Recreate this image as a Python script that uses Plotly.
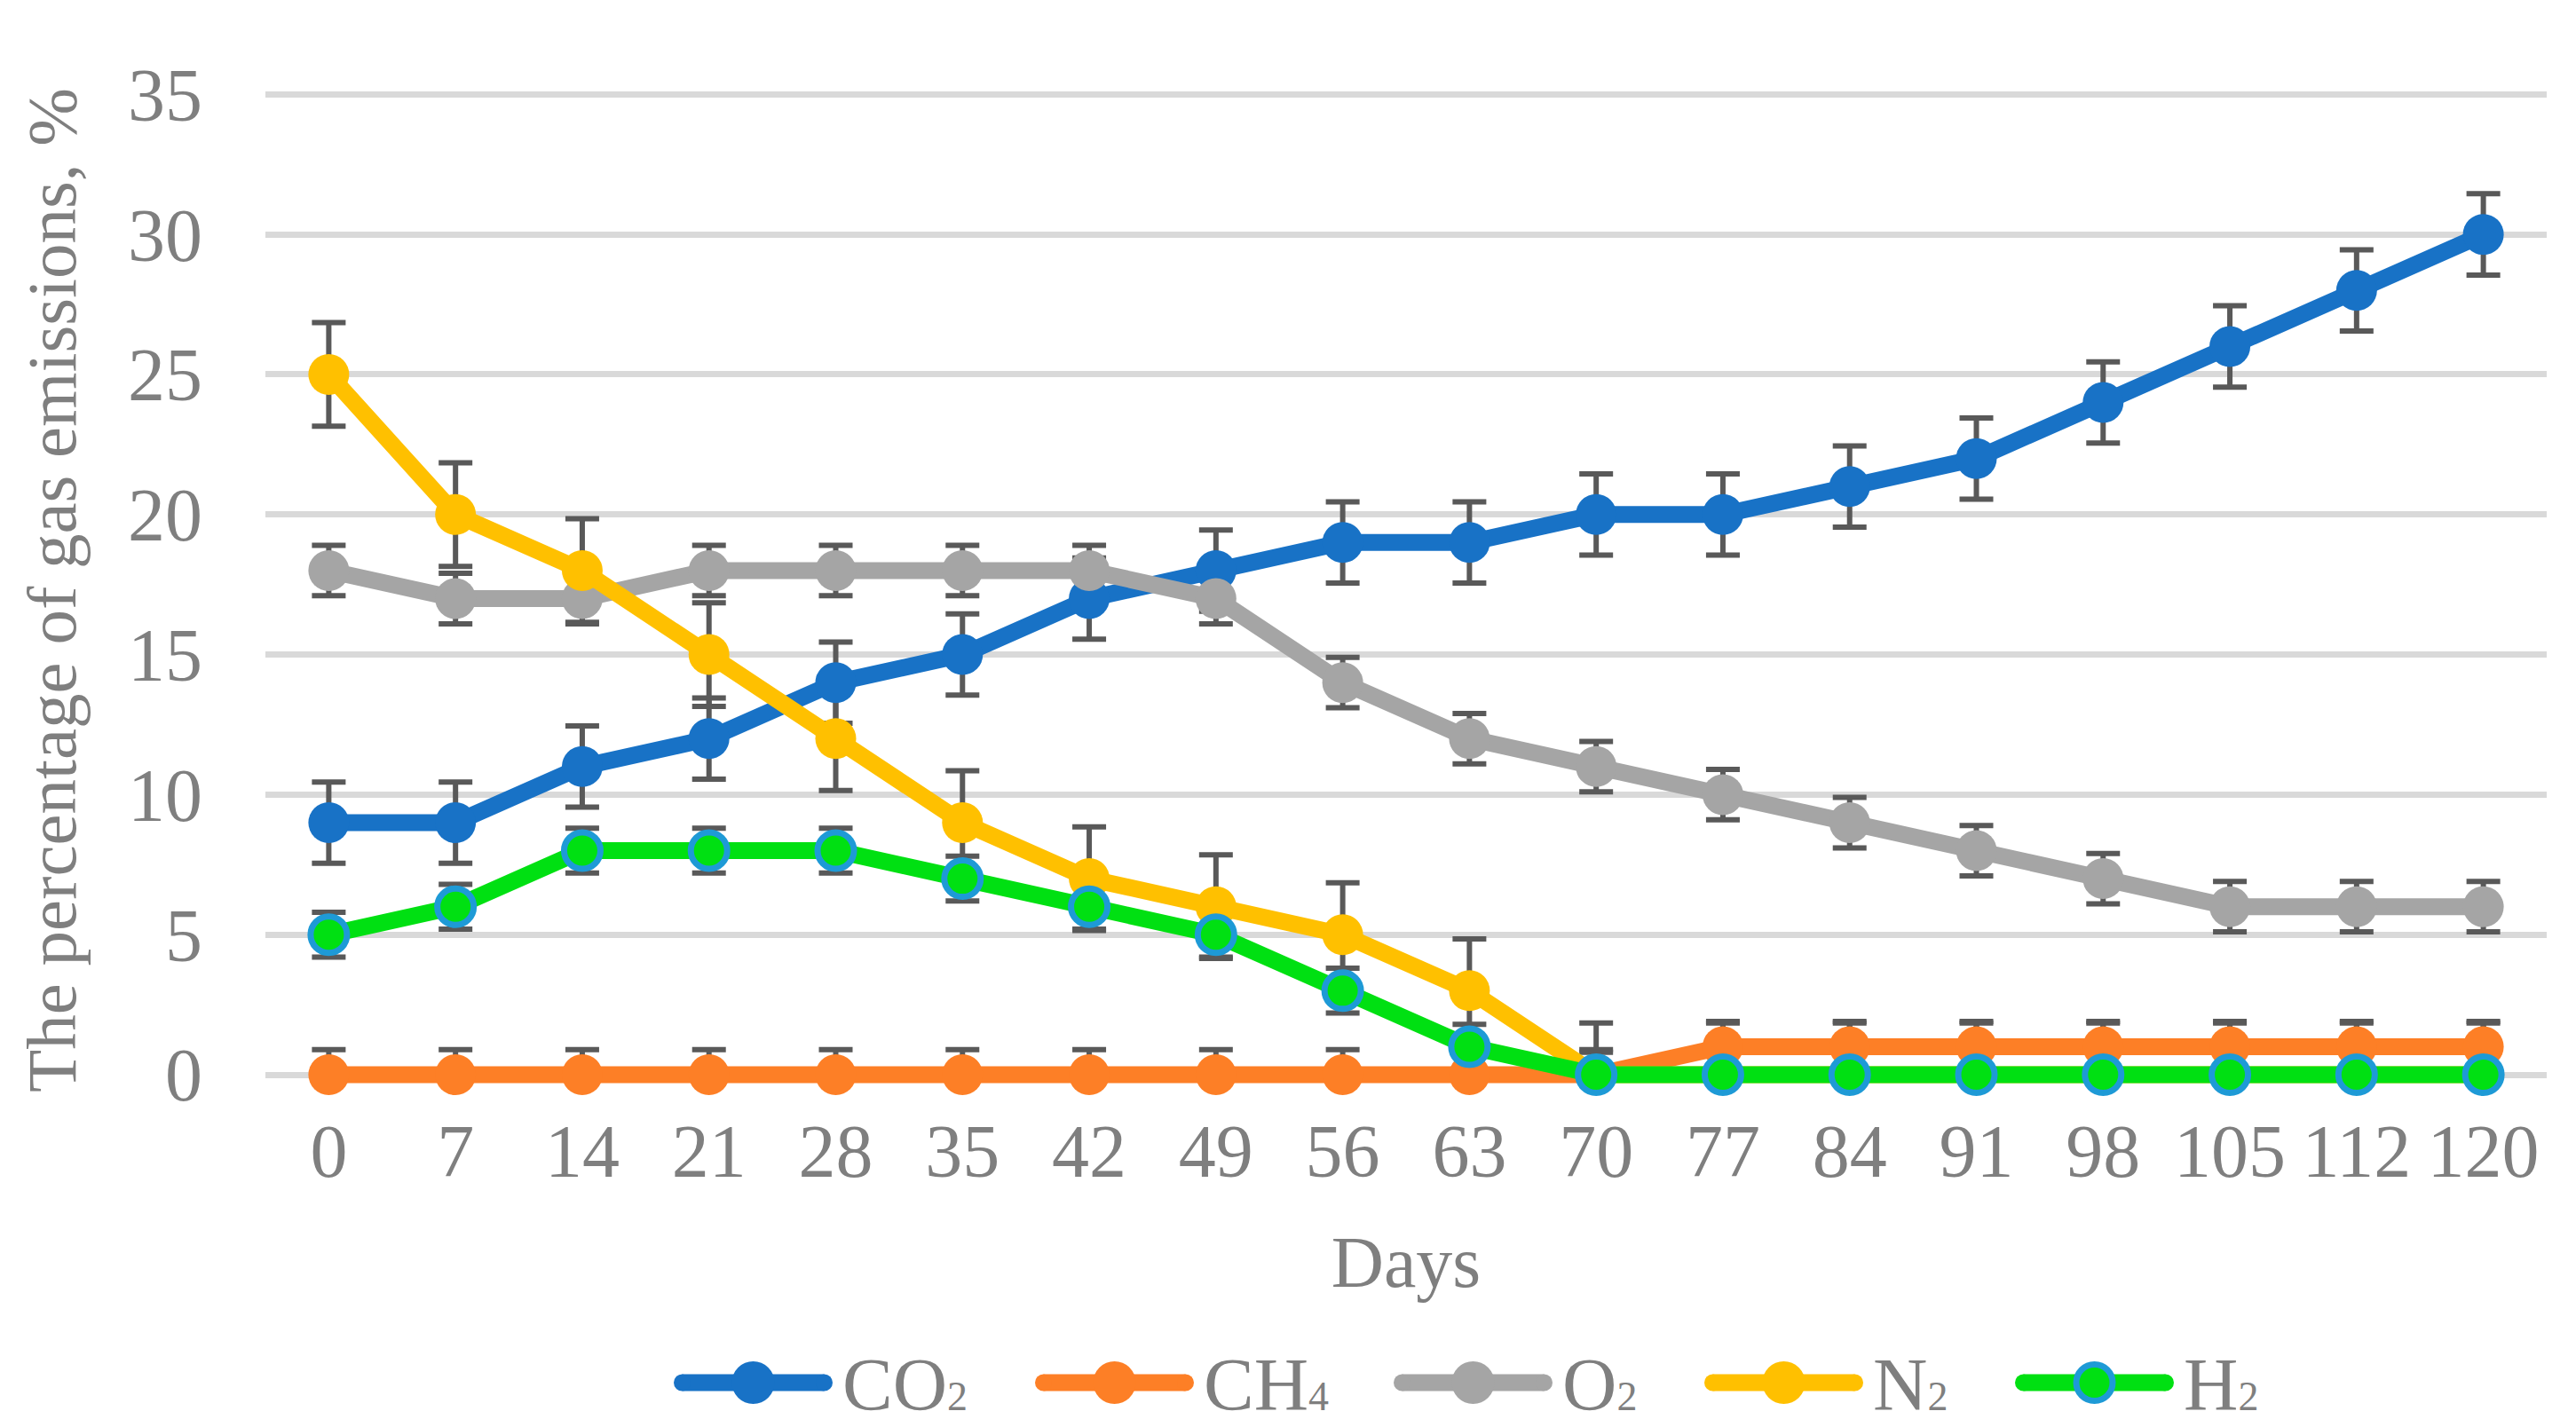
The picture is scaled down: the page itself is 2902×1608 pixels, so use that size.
import plotly.graph_objects as go

days = ["0", "7", "14", "21", "28", "35", "42", "49", "56", "63", "70", "77", "84", "91", "98", "105", "112", "120"]
co2 = [9, 9, 11, 12, 14, 15, 17, 18, 19, 19, 20, 20, 21, 22, 24, 26, 28, 30]
ch4 = [0, 0, 0, 0, 0, 0, 0, 0, 0, 0, 0, 1, 1, 1, 1, 1, 1, 1]
o2 = [18, 17, 17, 18, 18, 18, 18, 17, 14, 12, 11, 10, 9, 8, 7, 6, 6, 6]
n2 = [25, 20, 18, 15, 12, 9, 7, 6, 5, 3, 0, 0, 0, 0, 0, 0, 0, 0]
h2 = [5, 6, 8, 8, 8, 7, 6, 5, 3, 1, 0, 0, 0, 0, 0, 0, 0, 0]

# fixed error amount per series
err_co2 = 1.45
err_ch4 = 0.9
err_o2 = 0.9
err_n2 = 1.85
err_h2 = 0.8

SUB = "<span style='font-size:46px'>%s</span>"
names = ["CO" + SUB % "2", "CH" + SUB % "4", "O" + SUB % "2", "N" + SUB % "2", "H" + SUB % "2"]
values = [co2, ch4, o2, n2, h2]
errors = [err_co2, err_ch4, err_o2, err_n2, err_h2]
colors = ["#1872C6", "#FD7F26", "#A5A5A5", "#FFC000", "#00E012"]
edges = ["#1872C6", "#FD7F26", "#A5A5A5", "#FFC000", "#1E9AD6"]

FONT = "Liberation Serif"
GRAY = "#7F7F7F"
FS = 84

# layout geometry (page pixels; the page body adds an 8px offset)
OFF = 8
W, H = 2902, 1608
plot_l, plot_r = 299 - OFF, 2869 - OFF
y35_px, y0_px = 106 - OFF, 1211 - OFF
ymin, ymax = -0.6, 35.2
unit = (y0_px - y35_px) / 35.0
top_px = y35_px - (ymax - 35) * unit
bot_px = y0_px - ymin * unit

def px_x(p):
    return (p - OFF - plot_l) / (plot_r - plot_l)

def px_y(p):
    return (bot_px - (p - OFF)) / (bot_px - top_px)

fig = go.Figure()

# error bars drawn beneath all series
for vals, err in zip(values, errors):
    fig.add_trace(go.Scatter(
        x=days, y=vals, mode="markers",
        marker=dict(size=1, opacity=0),
        error_y=dict(type="data", array=[err] * len(vals),
                     arrayminus=[min(err, v) for v in vals],
                     color="#595959", thickness=6, width=19),
        showlegend=False, hoverinfo="skip",
    ))

for name, vals, col, edge in zip(names, values, colors, edges):
    bordered = edge != col
    fig.add_trace(go.Scatter(
        x=days, y=vals, name=name, mode="lines+markers",
        line=dict(color=col, width=19),
        marker=dict(size=41 if bordered else 46, color=col,
                    line=dict(color=edge, width=7 if bordered else 0)),
        cliponaxis=False, showlegend=False,
    ))

# custom legend (line + marker + label), positions in page pixels
legend_line_start = [759, 1166, 1570, 1920, 2270]
legend_line_len = 179
legend_lw = 19
legend_text_gap = 9
legend_y = 1558
legend_text_y = 1560
shapes = []
annotations = []
for name, col, edge, x0 in zip(names, colors, edges, legend_line_start):
    x1 = x0 + legend_line_len
    xc = (x0 + x1) / 2
    r = legend_lw / 2
    shapes.append(dict(type="line", xref="paper", yref="paper",
                       x0=px_x(x0 + r), x1=px_x(x1 - r),
                       y0=px_y(legend_y), y1=px_y(legend_y),
                       line=dict(color=col, width=legend_lw), layer="above"))
    for xe in (x0 + r, x1 - r):
        shapes.append(dict(type="circle", xref="paper", yref="paper",
                           xsizemode="pixel", ysizemode="pixel",
                           xanchor=px_x(xe), yanchor=px_y(legend_y),
                           x0=-r, x1=r, y0=-r, y1=r,
                           fillcolor=col, line=dict(width=0), layer="above"))
    bordered = edge != col
    rm = 24 if not bordered else 20.5
    shapes.append(dict(type="circle", xref="paper", yref="paper",
                       xsizemode="pixel", ysizemode="pixel",
                       xanchor=px_x(xc), yanchor=px_y(legend_y),
                       x0=-rm, x1=rm, y0=-rm, y1=rm,
                       fillcolor=col, line=dict(color=edge, width=7 if bordered else 0),
                       layer="above"))
    annotations.append(dict(text=name, xref="paper", yref="paper",
                            x=px_x(x1 + legend_text_gap), y=px_y(legend_text_y),
                            xanchor="left", yanchor="middle", showarrow=False,
                            font=dict(family=FONT, size=85, color=GRAY)))

fig.update_layout(
    width=W, height=H,
    margin=dict(l=plot_l, r=W - plot_r, t=top_px, b=H - bot_px, pad=0, autoexpand=False),
    paper_bgcolor="white", plot_bgcolor="white",
    font=dict(family=FONT, size=FS, color=GRAY),
    showlegend=False,
    shapes=shapes,
    annotations=annotations,
    xaxis=dict(type="category", range=[-0.5, 17.5], showgrid=False, zeroline=False, showline=False,
               ticks="", tickfont=dict(family=FONT, size=FS, color=GRAY),
               ticklabelstandoff=11,
               title=dict(text="Days", font=dict(family=FONT, size=82, color=GRAY), standoff=49)),
    yaxis=dict(range=[ymin, ymax], dtick=5, tick0=0, showgrid=True, gridcolor="#D9D9D9", gridwidth=7,
               zeroline=True, zerolinecolor="#D9D9D9", zerolinewidth=7, showline=False,
               ticks="", tickfont=dict(family=FONT, size=FS, color=GRAY),
               ticklabelstandoff=70,
               title=dict(text="The percentage of gas emissions, %", font=dict(family=FONT, size=79, color=GRAY), standoff=32)),
)

fig.write_html("out.html")
